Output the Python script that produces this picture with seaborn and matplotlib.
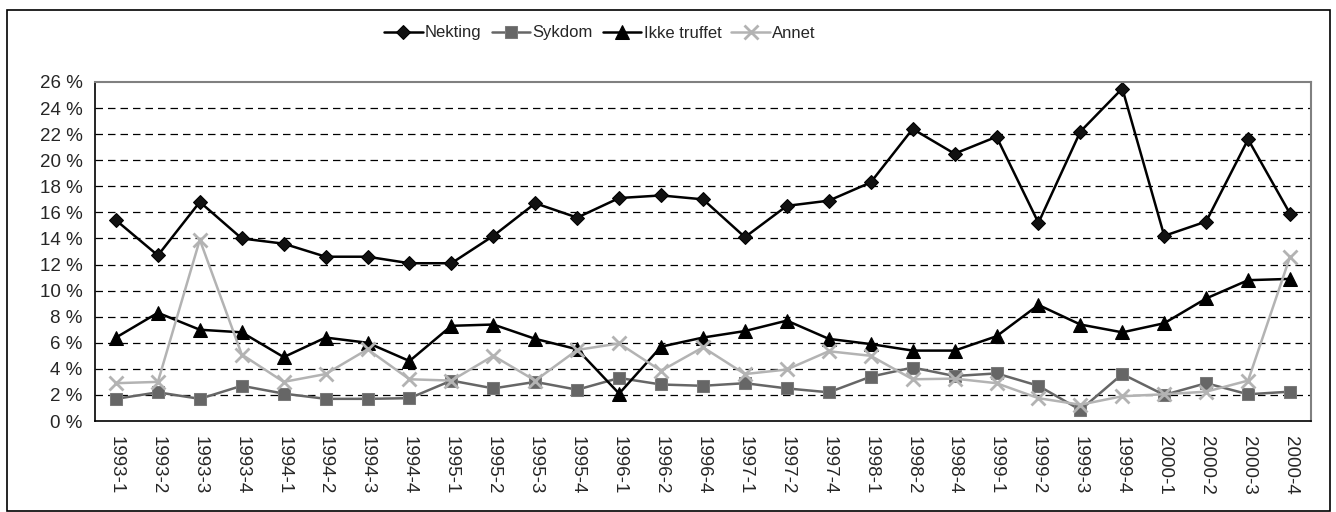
import matplotlib
matplotlib.use("Agg")
import matplotlib.pyplot as plt
import matplotlib.ticker as mticker
from matplotlib.patches import Rectangle
import seaborn as sns

sns.set_style("white")
plt.rcParams['font.family'] = ['Liberation Sans', 'DejaVu Sans']

quarters = ["1993-1", "1993-2", "1993-3", "1993-4", "1994-1", "1994-2", "1994-3", "1994-4",
            "1995-1", "1995-2", "1995-3", "1995-4", "1996-1", "1996-2", "1996-4", "1997-1",
            "1997-2", "1997-4", "1998-1", "1998-2", "1998-4", "1999-1", "1999-2", "1999-3",
            "1999-4", "2000-1", "2000-2", "2000-3", "2000-4"]

nekting = [15.4, 12.7, 16.8, 14.0, 13.6, 12.6, 12.6, 12.1, 12.1, 14.2, 16.7, 15.6, 17.1, 17.3,
           17.0, 14.1, 16.5, 16.9, 18.3, 22.4, 20.5, 21.8, 15.2, 22.2, 25.5, 14.2, 15.3, 21.6, 15.9]
sykdom = [1.7, 2.2, 1.7, 2.7, 2.1, 1.7, 1.7, 1.75, 3.1, 2.5, 3.0, 2.4, 3.3, 2.8,
          2.7, 2.9, 2.5, 2.2, 3.4, 4.1, 3.45, 3.65, 2.7, 0.85, 3.6, 2.0, 2.9, 2.05, 2.25]
ikke_truffet = [6.4, 8.3, 7.0, 6.8, 4.9, 6.4, 6.0, 4.6, 7.3, 7.4, 6.3, 5.5, 2.1, 5.7,
                6.4, 6.9, 7.7, 6.3, 5.9, 5.4, 5.4, 6.5, 8.9, 7.4, 6.8, 7.5, 9.4, 10.8, 10.9]
annet = [2.9, 3.0, 13.9, 5.1, 3.0, 3.6, 5.5, 3.2, 3.1, 5.0, 3.1, 5.45, 5.95, 3.85,
         5.65, 3.6, 3.95, 5.35, 5.0, 3.2, 3.25, 2.9, 1.75, 1.25, 1.9, 2.05, 2.25, 3.1, 12.6]

series = [
    ("Nekting", nekting, dict(color="#000000", marker="D", ms=7, mec="#000000", mfc="#111111")),
    ("Sykdom", sykdom, dict(color="#666666", marker="s", ms=9, mec="#7a7a7a", mfc="#666666")),
    ("Ikke truffet", ikke_truffet, dict(color="#000000", marker="^", ms=10, mec="#000000", mfc="#000000")),
    ("Annet", annet, dict(color="#b3b3b3", marker="x", ms=10, mew=2, mec="#b3b3b3")),
]

fig = plt.figure(figsize=(13.36, 5.12), dpi=100)
ax = fig.add_axes([95 / 1336, 1 - 421 / 512, (1311 - 95) / 1336, (421 - 82) / 512])

xpos = list(range(len(quarters)))
for name, vals, style in series:
    sns.lineplot(x=xpos, y=vals, ax=ax, label=name, lw=1.8, sort=False, **style)

ax.set_xlim(-0.5, len(quarters) - 0.5)
ax.set_ylim(0, 26)
ax.set_yticks(range(0, 27, 2))
ax.yaxis.set_major_formatter(mticker.FuncFormatter(lambda v, p: f"{int(v)} %"))
ax.set_xticks(xpos)
ax.set_xticklabels(quarters, rotation=270, fontsize=13.5)
ax.set_xticks([i - 0.5 for i in range(len(quarters) + 1)], minor=True)
ax.tick_params(axis="x", which="major", length=0, pad=11)
ax.tick_params(axis="x", which="minor", length=5, width=1, color="black", direction="out")
ax.tick_params(axis="y", length=5, width=1, color="black", direction="out", labelsize=13.5, pad=4)
ax.set_xlabel("")
ax.set_ylabel("")

for g in range(2, 26, 2):
    ax.axhline(g, color="black", lw=0.9, ls=(0, (6, 4)), zorder=0)

ax.spines["left"].set_color("black")
ax.spines["bottom"].set_color("black")
ax.spines["left"].set_linewidth(1.2)
ax.spines["bottom"].set_linewidth(1.2)
ax.spines["top"].set_color("#808080")
ax.spines["right"].set_color("#808080")
ax.spines["top"].set_linewidth(1.5)
ax.spines["right"].set_linewidth(1.5)

ax.legend(loc="center", bbox_to_anchor=(600 / 1336, 1 - 33 / 512), bbox_transform=fig.transFigure,
          ncol=4, frameon=False, fontsize=12, handlelength=2.3, handletextpad=0.15,
          columnspacing=0.6, borderaxespad=0)

fig.patches.append(Rectangle((7 / 1336, 1 / 512), 1323 / 1336, 501 / 512, transform=fig.transFigure,
                             fill=False, edgecolor="black", lw=1.2))

fig.savefig("out.png", dpi=100)
